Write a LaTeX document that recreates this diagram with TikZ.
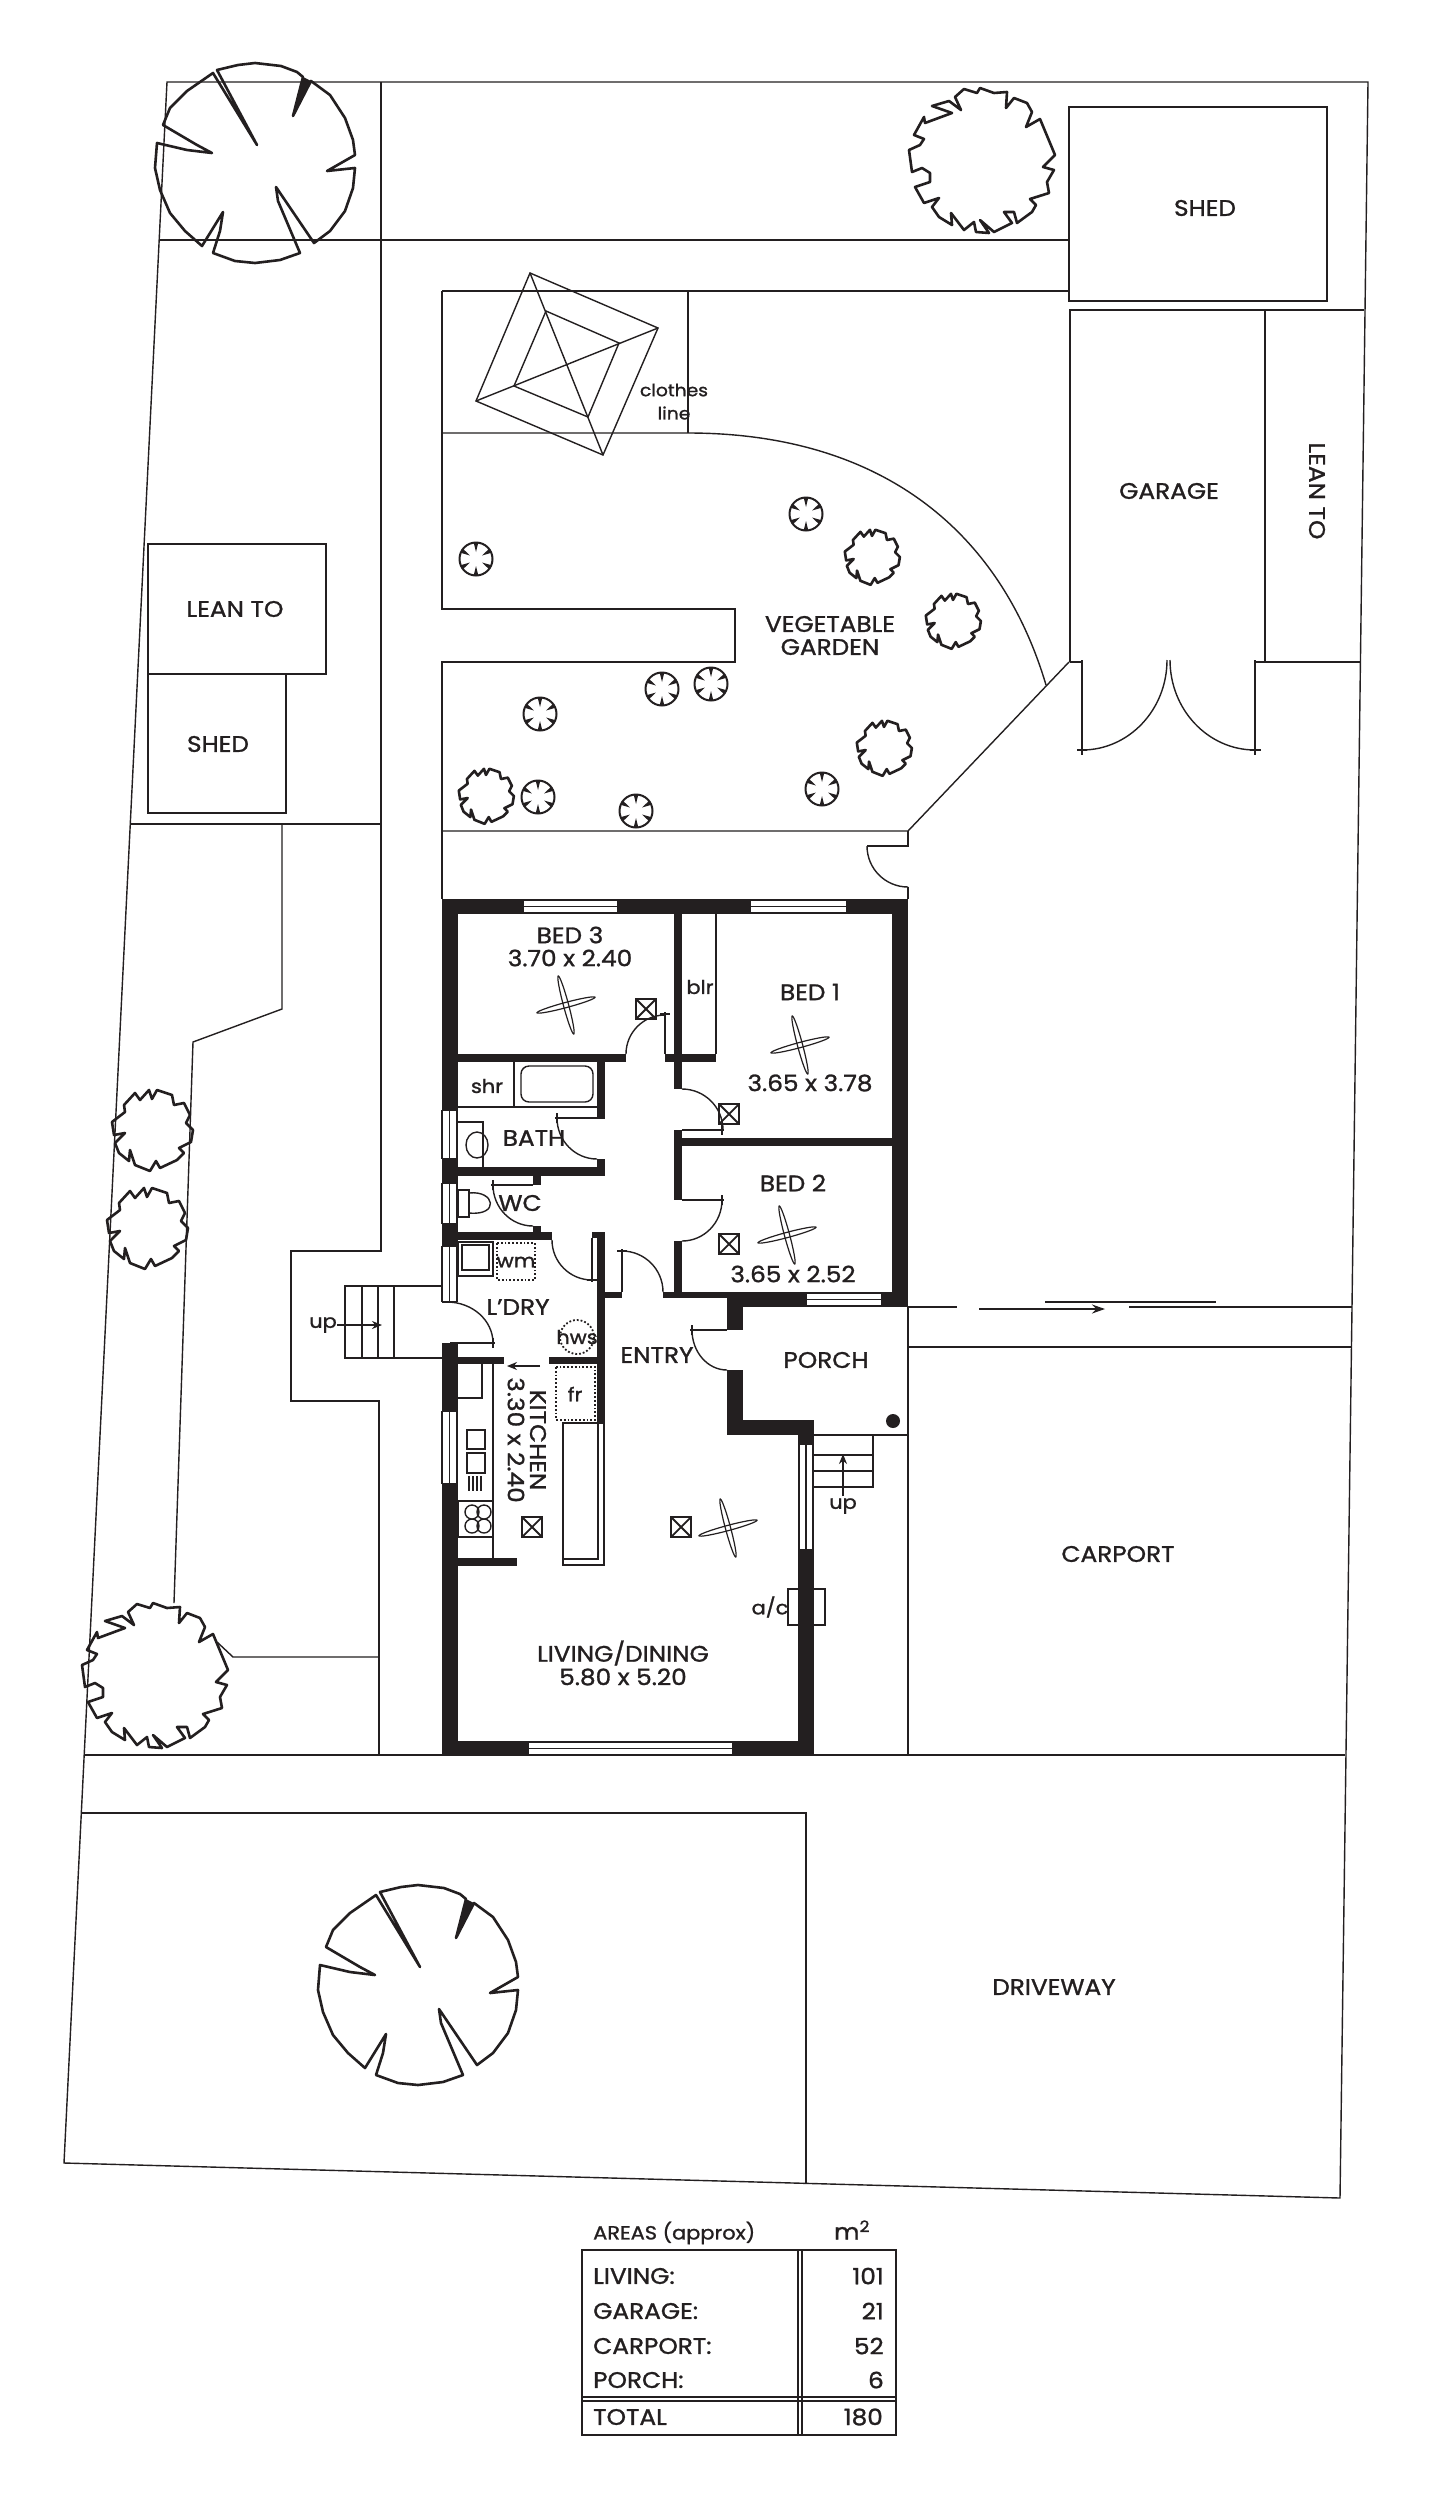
\documentclass[tikz,border=0pt]{standalone}
\usepackage{fontspec}
\setmainfont{Poppins}[FakeStretch=1.1,FakeBold=1.2]
\usetikzlibrary{calc,arrows.meta}
\definecolor{ink}{HTML}{231F20}
\newcommand\qarc[3]{\draw[thin line] (#1) .. controls ($(#1)+.5523*(#2)-.5523*(#3)$) and ($(#2)+.5523*(#1)-.5523*(#3)$) .. (#2);}
\newcommand\wallbox[4]{\fill[ink] (#1,#2) rectangle (#3,#4);}
\newcommand\hwin[4]{\fill[white] (#1,#3) rectangle (#2,#4);
  \draw[thin line] (#1,#3) -- (#2,#3) (#1,{(#3+#4)/2}) -- (#2,{(#3+#4)/2}) (#1,#4) -- (#2,#4) (#1,#3) -- (#1,#4) (#2,#3) -- (#2,#4);}
\newcommand\vwin[4]{\fill[white] (#1,#3) rectangle (#2,#4);
  \draw[thin line] (#1,#3) -- (#1,#4) ({(#1+#2)/2},#3) -- ({(#1+#2)/2},#4) (#2,#3) -- (#2,#4) (#1,#3) -- (#2,#3) (#1,#4) -- (#2,#4);}
\tikzset{
  x=1pt,y=-1pt,
  thin line/.style={draw=ink,line width=1.4pt,line join=miter},
  heavy line/.style={draw=ink,line width=2.8pt,line join=miter},
  tree line/.style={draw=ink,line width=2.6pt,line join=round},
  lab/.style={text=ink,inner sep=0pt,font=\fontsize{22.5}{24}\selectfont},
  small lab/.style={text=ink,inner sep=0pt,font=\fontsize{19}{20}\selectfont},
  tiny lab/.style={text=ink,inner sep=0pt,font=\fontsize{17}{20}\selectfont},
  fan/.pic={
    \draw[ink,line width=1.2pt,rotate=15] (0,0) ellipse [x radius=30,y radius=2.6];
    \draw[ink,line width=1.2pt,rotate=105] (0,0) ellipse [x radius=30,y radius=2.6];
  },
  xbox/.pic={
    \draw[ink,line width=1.8pt] (-10,-10) rectangle (10,10) (-10,-10) -- (10,10) (-10,10) -- (10,-10);
  },
  bigtree/.pic={
    \draw[tree line] (-38,-93) -- (-17,-98) -- (0,-100) -- (26,-97) -- (42,-91) -- (48,-86) -- (38,-47) -- (56,-82)
      -- (75,-68) -- (90,-45) -- (98,-23) -- (100,-8) -- (72,8) -- (100,5) -- (98,25) -- (90,48) -- (75,68) -- (59,80)
      -- (21,24) -- (23,38) -- (45,90) -- (25,97) -- (0,100) -- (-20,98) -- (-42,90) -- (-35,68) -- (-32,49) -- (-53,83)
      -- (-70,68) -- (-85,50) -- (-95,27) -- (-100,5) -- (-98,-20) -- (-68,-13) -- (-43,-10) -- (-58,-18) -- (-92,-38)
      -- (-85,-55) -- (-68,-72) -- (-42,-90) -- (2,-18) -- cycle;
    \fill[ink] (48,-86) -- (38,-47) -- (56,-82) -- cycle;
  },
  bushtree/.pic={
    \draw[tree line] (-68,-25) -- (-58,-43) -- (-57,-37) -- (-30,-47) -- (-50,-54) -- (-33,-59) -- (-21,-50) -- (-27,-63)
      -- (-18,-71) -- (-5,-67) -- (-2,-72) -- (12,-67) -- (25,-68) -- (24,-52) -- (32,-62) -- (45,-57) -- (50,-48)
      -- (44,-33) -- (58,-41) -- (73,-5) -- (61,7) -- (72,10) -- (65,22) -- (67,33) -- (48,39) -- (54,45) -- (50,52)
      -- (35,63) -- (32,52) -- (22,52) -- (30,63) -- (12,72) -- (-2,60) -- (7,73) -- (-6,72) -- (-8,62) -- (-18,70)
      -- (-31,53) -- (-30,65) -- (-43,57) -- (-50,47) -- (-43,38) -- (-58,43) -- (-67,27) -- (-52,22) -- (-52,13)
      -- (-60,8) -- (-70,12) -- (-73,-10) -- (-62,-15) -- (-58,-21) -- cycle;
  },
  shrub/.pic={
    \draw[tree line] (-40,-8) -- (-27,-18) -- (-28,-25) -- (-17,-37) -- (-12,-30) -- (-3,-40) -- (0,-31) -- (5,-40)
      -- (20,-35) -- (22,-25) -- (32,-27) -- (38,-15) -- (34,-7) -- (41,0) -- (39,12) -- (27,18) -- (32,23) -- (25,30)
      -- (8,38) -- (4,31) -- (-2,41) -- (-17,35) -- (-22,20) -- (-23,31) -- (-33,23) -- (-37,13) -- (-27,3) -- (-38,5) -- cycle;
  },
  flower/.pic={
    \draw[ink,line width=2pt] (0,0) circle [radius=16.5];
    \foreach \a in {90,150,210,270,330,30} \fill[ink] (\a-8:16.5) -- (\a:7) -- (\a+8:16.5) -- cycle;
  },
}
\begin{document}
\begin{tikzpicture}
\useasboundingbox (0,0) rectangle (1433,2500);
\fill[white] (0,0) rectangle (1433,2500);
% site
\draw[thin line] (167,82) -- (1368,82) -- (1352,1307) -- (1340,2198) -- (64,2163) -- cycle;
\draw[thin line] (160,240) -- (1069,240);
\draw[thin line] (442,291) -- (1069,291);
\draw[thin line] (381,82) -- (381,1251) -- (291,1251) -- (291,1401) -- (379,1401) -- (379,1755);
\draw[thin line] (131,824) -- (381,824);
\draw[thin line] (282,824) -- (282,1009) -- (193,1042) -- (174,1603);
\draw[thin line] (217,1642) -- (233,1657) -- (379,1657);
\draw[thin line] (85,1755) -- (1345,1755);
\draw[thin line] (82,1813) -- (806,1813) -- (806,2183);
% left outbuildings
\draw[thin line] (148,544) rectangle (326,674);
\draw[heavy line] (148,674) rectangle (286,813);
% top right buildings
\draw[heavy line] (1069,107) rectangle (1327,301);
\draw[heavy line] (1070,662) -- (1070,310) -- (1265,310) -- (1265,662);
\draw[thin line] (1265,310) -- (1364,310);
\draw[thin line] (1265,662) -- (1361,662);
% garage doors
\draw[thin line] (1070,662) -- (1082,662) (1082,660) -- (1082,755) (1077,750) -- (1087,750);
\draw[thin line] (1265,662) -- (1255,662) (1255,660) -- (1255,755) (1250,750) -- (1261,750);
\qarc{1082,750}{1167,660}{1082,660}
\qarc{1255,750}{1170,660}{1255,660}
% garden
\draw[thin line] (442,433) -- (442,291);
\draw[thin line] (688,291) -- (688,433);
\draw[thin line] (442,433) -- (688,433) .. controls (880,433) and (1000,530) .. (1046,685);
\draw[thin line] (442,433) -- (442,609) -- (735,609) -- (735,662) -- (442,662) -- (442,899);
\draw[thin line] (442,831) -- (908,831) -- (1069,662);
\draw[thin line] (908,831) -- (908,846) -- (867,846);
\qarc{867,846}{908,887}{908,846}
\draw[thin line] (908,887) -- (908,899);
% clothes line
\draw[thin line] (530,273) -- (658,328) -- (603,455) -- (476,401) -- cycle;
\draw[thin line] (546,311) -- (619,343) -- (588,417) -- (514,386) -- cycle;
\draw[thin line] (530,273) -- (603,455) (658,328) -- (476,401);
% driveway / carport lines
\draw[thin line] (908,1307) -- (957,1307) (1129,1307) -- (1352,1307) (1045,1302) -- (1216,1302);
\draw[thin line,-{Stealth[length=13pt,width=9pt]}] (979,1309) -- (1105,1309);
\draw[thin line] (908,1347) -- (1351,1347);
\draw[thin line] (908,1307) -- (908,1755);
% steps
\draw[thin line] (442,1286) -- (345,1286) -- (345,1358) -- (442,1358);
\draw[thin line] (362,1286) -- (362,1358) (378,1286) -- (378,1358) (394,1286) -- (394,1358);
\draw[thin line,-{Stealth[length=10pt,width=8pt]}] (337,1325) -- (382,1325);
\draw[thin line] (814,1435) -- (908,1435);
\draw[thin line] (814,1455) -- (873,1455) (814,1471) -- (873,1471) (814,1487) -- (873,1487) -- (873,1435);
\draw[thin line,-{Stealth[length=10pt,width=8pt]}] (843,1496) -- (843,1454);
\fill[ink] (893,1421) circle [radius=7];
% a/c unit
\draw[thin line] (788,1589) rectangle (825,1625);
% trees
\pic at (255,163) {bigtree};
\pic at (418,1985) {bigtree};
\pic at (982,160) {bushtree};
\pic at (155,1675) {bushtree};
\pic at (152,1130) {shrub};
\pic at (147,1228) {shrub};
\pic[scale=.68] at (872,557) {shrub};
\pic[scale=.68] at (953,621) {shrub};
\pic[scale=.68] at (884,748) {shrub};
\pic[scale=.68] at (486,796) {shrub};
\pic at (806,514) {flower};
\pic at (476,559) {flower};
\pic at (711,684) {flower};
\pic at (662,689) {flower};
\pic at (540,714) {flower};
\pic at (538,797) {flower};
\pic at (636,811) {flower};
\pic at (822,789) {flower};
% walls
\wallbox{442}{899}{908}{914}
\wallbox{892}{899}{908}{1307}
\wallbox{727}{1292}{908}{1307}
\wallbox{442}{899}{458}{1110}
\wallbox{442}{1159}{458}{1183}
\wallbox{442}{1224}{458}{1246}
\wallbox{442}{1343}{458}{1755}
\wallbox{442}{1741}{814}{1755}
\wallbox{798}{1420}{814}{1755}
\wallbox{727}{1420}{814}{1435}
\wallbox{727}{1292}{743}{1330}
\wallbox{727}{1370}{743}{1435}
\wallbox{663}{1292}{727}{1298}
\wallbox{605}{1292}{622}{1298}
\wallbox{674}{914}{682}{1089}
\wallbox{674}{1130}{682}{1200}
\wallbox{674}{1241}{682}{1292}
\wallbox{674}{1138}{892}{1146}
\wallbox{458}{1054}{626}{1062}
\wallbox{665}{1054}{716}{1062}
\wallbox{597}{1062}{605}{1119}
\wallbox{597}{1159}{605}{1176}
\wallbox{458}{1167}{605}{1176}
\wallbox{533}{1176}{541}{1185}
\wallbox{533}{1226}{541}{1233}
\wallbox{442}{1232}{552}{1240}
\wallbox{597}{1232}{605}{1422}
\wallbox{592}{1232}{605}{1238}
\wallbox{458}{1357}{504}{1364}
\wallbox{549}{1357}{597}{1364}
\wallbox{458}{1558}{517}{1566}
% windows
\hwin{523}{618}{900}{913}
\hwin{750}{847}{900}{913}
\hwin{806}{882}{1293}{1306}
\hwin{528}{733}{1742}{1755}
\vwin{442}{457}{1110}{1159}
\vwin{442}{457}{1183}{1224}
\vwin{442}{457}{1246}{1302}
\vwin{442}{457}{1411}{1484}
\vwin{799}{813}{1444}{1550}
% door leaves and arcs
\draw[thin line] (665,1054) -- (665,1012) (660,1014) -- (670,1014);
\qarc{626,1054}{665,1015}{665,1054}
\draw[thin line] (682,1130) -- (724,1130) (722,1125) -- (722,1135);
\qarc{682,1089}{723,1130}{682,1130}
\draw[thin line] (682,1200) -- (724,1200) (722,1195) -- (722,1205);
\qarc{722,1200}{682,1241}{682,1200}
\draw[thin line] (597,1118) -- (555,1118) (557,1113) -- (557,1123);
\qarc{557,1118}{597,1159}{597,1118}
\draw[thin line] (533,1185) -- (491,1185) (493,1180) -- (493,1190);
\qarc{493,1185}{533,1226}{533,1185}
\draw[thin line] (592,1238) -- (592,1282) (587,1280) -- (597,1280);
\qarc{552,1240}{592,1280}{592,1240}
\draw[thin line] (622,1292) -- (622,1249) (617,1251) -- (627,1251);
\qarc{622,1251}{663,1292}{622,1292}
\draw[thin line] (727,1330) -- (690,1330) (692,1325) -- (692,1335);
\qarc{692,1330}{727,1370}{727,1330}
\draw[thin line] (450,1343) -- (495,1343) (493,1338) -- (493,1348);
\qarc{447,1302}{493,1343}{447,1343}
% interior fixtures
\draw[thin line] (716,914) -- (716,1054);
\draw[thin line] (458,1107) -- (597,1107) (514,1062) -- (514,1107);
\draw[thin line,rounded corners=8pt] (521,1066) rectangle (593,1102);
\draw[thin line] (458,1122) -- (483,1122) -- (483,1167);
\draw[thin line] (477,1145) ellipse [x radius=11,y radius=13];
\draw[thin line] (458,1190) rectangle (469,1217);
\draw[thin line] (469,1193) .. controls (495,1190) and (500,1216) .. (469,1213);
\draw[thin line] (458,1242) rectangle (493,1276);
\draw[thin line] (462,1245) rectangle (489,1270);
\draw[ink,line width=1.8pt,dotted] (497,1243) rectangle (535,1280);
\draw[ink,line width=1.8pt,dotted] (577,1337) circle [radius=17];
\draw[ink,line width=1.8pt,dotted] (556,1367) rectangle (595,1420);
\draw[thin line,-{Stealth[length=10pt,width=8pt]}] (540,1366) -- (507,1366);
% kitchen
\draw[thin line] (493,1364) -- (493,1558);
\draw[thin line] (458,1398) -- (482,1398) -- (482,1364);
\draw[thin line] (467,1430) rectangle (485,1449);
\draw[thin line] (467,1453) rectangle (485,1473);
\draw[thin line] (469,1476) -- (469,1491) (473,1476) -- (473,1491) (477,1476) -- (477,1491) (481,1476) -- (481,1491);
\draw[thin line] (458,1501) rectangle (493,1537);
\draw[thin line] (472,1512) circle [radius=7] (484,1512) circle [radius=7] (472,1526) circle [radius=7] (484,1526) circle [radius=7];
\draw[thin line] (563,1423) rectangle (604,1565);
\draw[thin line] (598,1423) -- (598,1559) -- (563,1559);
% fans and lights
\pic at (566,1005) {fan};
\pic at (800,1045) {fan};
\pic at (787,1235) {fan};
\pic at (728,1528) {fan};
\pic at (646,1009) {xbox};
\pic at (729,1114) {xbox};
\pic at (729,1244) {xbox};
\pic at (532,1527) {xbox};
\pic at (681,1527) {xbox};
% labels
\node[lab] (shedtop) at (1205,208) {SHED};
\node[lab] (garage) at (1169,491) {GARAGE};
\node[lab,rotate=-90] (leantor) at (1317,491) {LEAN TO};
\node[lab] (leantol) at (235,609) {LEAN TO};
\node[lab] (shedl) at (218,744) {SHED};
\node[tiny lab] (clothes) at (674,390) {clothes};
\node[tiny lab] (cline) at (674,413) {line};
\node[lab] (veg) at (830,624) {VEGETABLE};
\node[lab] (gard) at (830,647) {GARDEN};
\node[lab] (bed3) at (570,935) {BED 3};
\node[lab] (bed3d) at (570,958) {3.70 x 2.40};
\node[lab] (bed1) at (810,992) {BED 1};
\node[lab] (bed1d) at (810,1083) {3.65 x 3.78};
\node[lab] (bed2) at (793,1183) {BED 2};
\node[lab] (bed2d) at (793,1274) {3.65 x 2.52};
\node[small lab] (blr) at (700,987) {blr};
\node[small lab] (shr) at (487,1086) {shr};
\node[lab] (bath) at (534,1138) {BATH};
\node[lab] (wc) at (520,1203) {WC};
\node[small lab] (wm) at (516,1262) {wm};
\node[lab] (ldry) at (518,1307) {L'DRY};
\node[small lab] (hws) at (577,1337) {hws};
\node[lab] (entry) at (657,1355) {ENTRY};
\node[lab] (porch) at (826,1360) {PORCH};
\node[small lab] (fr) at (575,1394) {fr};
\node[lab,rotate=-90] (kit) at (538,1440) {KITCHEN};
\node[lab,rotate=-90] (kitd) at (516,1440) {3.30 x 2.40};
\node[small lab] (upl) at (323,1325) {up};
\node[small lab] (upr) at (843,1506) {up};
\node[small lab] (ac) at (770,1607) {a/c};
\node[lab] (liv) at (623,1653) {LIVING/DINING};
\node[lab] (livd) at (623,1677) {5.80 x 5.20};
\node[lab] (carport) at (1118,1554) {CARPORT};
\node[lab] (drive) at (1054,1987) {DRIVEWAY};
% areas table
\draw[heavy line] (582,2250) rectangle (896,2435);
\draw[thin line] (798,2250) -- (798,2435) (802,2250) -- (802,2435);
\draw[thin line] (582,2397) -- (896,2397) (582,2401) -- (896,2401);
\node[small lab,anchor=west] (areas) at (593,2233) {AREAS (approx)};
\node[lab] (m2) at (852,2230) {m\textsuperscript{2}};
\node[lab,anchor=west] (a1) at (593,2276) {LIVING:};
\node[lab,anchor=west] (a2) at (593,2311) {GARAGE:};
\node[lab,anchor=west] (a3) at (593,2346) {CARPORT:};
\node[lab,anchor=west] (a4) at (593,2380) {PORCH:};
\node[lab,anchor=west] (a5) at (593,2417) {TOTAL};
\node[lab,anchor=east] (v1) at (884,2276) {101};
\node[lab,anchor=east] (v2) at (884,2311) {21};
\node[lab,anchor=east] (v3) at (884,2346) {52};
\node[lab,anchor=east] (v4) at (884,2380) {6};
\node[lab,anchor=east] (v5) at (883,2417) {180};
\end{tikzpicture}
\end{document}
